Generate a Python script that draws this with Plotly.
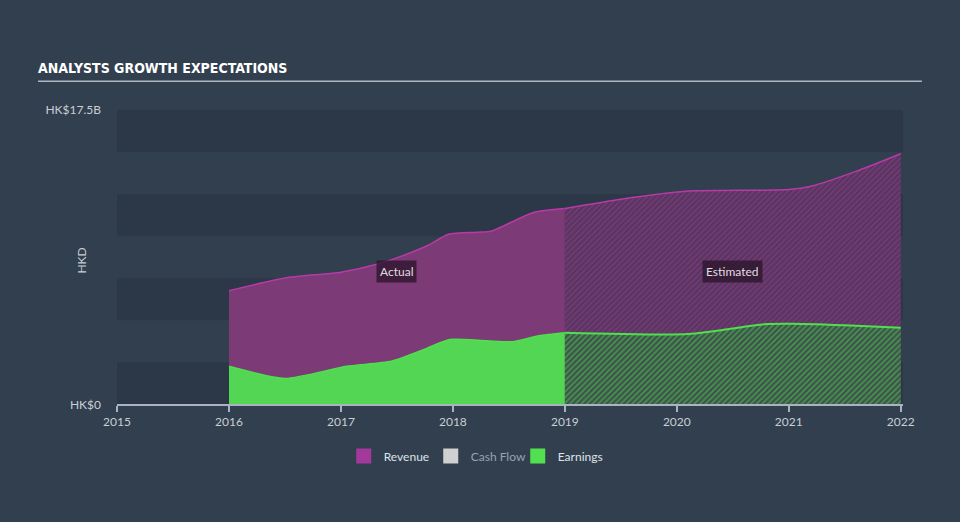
import plotly.graph_objects as go

# ---- data (values in HK$ billions, x in decimal years) ----
rev_actual_x = [2016.0, 2016.5, 2017.0, 2017.33, 2017.54, 2017.78, 2017.96, 2018.22, 2018.34, 2018.72, 2019.0]
rev_actual_y = [6.76, 7.51, 7.86, 8.34, 8.81, 9.46, 10.11, 10.23, 10.29, 11.41, 11.65]
rev_est_x = [2019.0, 2019.5, 2020.08, 2021.0, 2021.2, 2021.6, 2022.0]
rev_est_y = [11.65, 12.2, 12.67, 12.77, 12.97, 13.85, 14.9]

earn_actual_x = [2016.0, 2016.5, 2017.05, 2017.45, 2017.76, 2017.97, 2018.3, 2018.53, 2018.77, 2019.0]
earn_actual_y = [2.26, 1.54, 2.26, 2.56, 3.31, 3.86, 3.78, 3.72, 4.08, 4.26]
earn_est_x = [2019.0, 2020.1, 2020.8, 2021.03, 2021.6, 2022.0]
earn_est_y = [4.26, 4.18, 4.77, 4.79, 4.67, 4.55]

year_ticks = [2015, 2016, 2017, 2018, 2019, 2020, 2021, 2022]
y_ticks = [0, 17.5]
y_tick_labels = ["HK$0", "HK$17.5B"]
legend_names = ["Revenue", "Cash Flow", "Earnings"]

# ---- styles ----
BG = "#323f4f"
BAND = "#2c3847"
REV_FILL = "#7c3a76"
REV_LINE = "#b83aa6"
EARN_FILL = "#52d653"
EARN_LINE = "#4fe04c"
TXT = "#c9ced4"
FONT = "Lato, 'Open Sans', sans-serif"

fig = go.Figure()

# revenue actual
fig.add_trace(go.Scatter(x=rev_actual_x, y=rev_actual_y, mode="lines", fill="tozeroy",
                         fillcolor=REV_FILL, line=dict(color=REV_LINE, width=1.5, shape="spline", smoothing=0.6),
                         showlegend=False, hoverinfo="skip"))
# revenue estimated (hatched)
fig.add_trace(go.Scatter(x=rev_est_x, y=rev_est_y, mode="lines", fill="tozeroy",
                         fillpattern=dict(shape="/", fgcolor="#9a3a8d", bgcolor="#55365f", size=4, solidity=0.45),
                         line=dict(color=REV_LINE, width=1.5, shape="spline", smoothing=0.6),
                         showlegend=False, hoverinfo="skip"))
# earnings actual
fig.add_trace(go.Scatter(x=earn_actual_x, y=earn_actual_y, mode="lines", fill="tozeroy",
                         fillcolor=EARN_FILL, line=dict(color=EARN_LINE, width=1.5, shape="spline", smoothing=0.6),
                         showlegend=False, hoverinfo="skip"))
# earnings estimated (hatched)
fig.add_trace(go.Scatter(x=earn_est_x, y=earn_est_y, mode="lines", fill="tozeroy",
                         fillpattern=dict(shape="/", fgcolor="#52d653", bgcolor="#3d524b", size=4, solidity=0.45),
                         line=dict(color=EARN_LINE, width=2, shape="spline", smoothing=0.6),
                         showlegend=False, hoverinfo="skip"))

# legend entries
legend_colors = ["#a3399b", "#d0d0d0", "#52e050"]
legend_text_colors = ["#dfe3e8", "#9aa3ad", "#dfe3e8"]
for name, c, tc in zip(legend_names, legend_colors, legend_text_colors):
    fig.add_trace(go.Scatter(x=[None], y=[None], mode="markers",
                             marker=dict(symbol="square", size=15, color=c),
                             name=f"<span style='color:{tc}'>{name}</span>", showlegend=True))

# background bands
shapes = []
for lo in [0, 5, 10, 15]:
    shapes.append(dict(type="rect", xref="paper", yref="y", x0=0, x1=1, y0=lo, y1=lo + 2.5,
                       fillcolor=BAND, line=dict(width=0), layer="below"))
# title underline
shapes.append(dict(type="line", xref="paper", yref="paper", x0=-0.1005, x1=1.024, y0=1.098, y1=1.098,
                   line=dict(color="#b0b7c0", width=1.5)))

annotations = [
    dict(x=2017.5, y=7.92, xref="x", yref="y", text="Actual", showarrow=False,
         font=dict(family=FONT, size=12, color="#e0dde2"), bgcolor="rgba(40,20,40,0.75)", borderpad=3),
    dict(x=2020.5, y=7.92, xref="x", yref="y", text="Estimated", showarrow=False,
         font=dict(family=FONT, size=12, color="#e0dde2"), bgcolor="rgba(40,20,40,0.75)", borderpad=3),
    dict(x=-0.0573, y=0.49, xref="paper", yref="paper", text="HKD", showarrow=False, textangle=-90,
         font=dict(family=FONT, size=12, color=TXT)),
]

fig.update_layout(
    width=960, height=522,
    margin=dict(l=117, r=57, t=110, b=116),
    paper_bgcolor=BG, plot_bgcolor=BG,
    title=dict(text="<b>ANALYSTS GROWTH EXPECTATIONS</b>", x=38 / 960, xanchor="left",
               y=1 - 68 / 522, yanchor="middle",
               font=dict(family="'DejaVu Sans Condensed', 'Liberation Sans Narrow', sans-serif", size=14, color="#ffffff")),
    xaxis=dict(range=[2015, 2022.02], tickvals=year_ticks, ticktext=[str(t) for t in year_ticks],
               showgrid=False, zeroline=False, showline=True, linecolor="#aab3bf", linewidth=1.5,
               ticks="outside", ticklen=6, tickcolor="#aab3bf", tickwidth=1.5,
               tickfont=dict(family=FONT, size=12, color=TXT)),
    yaxis=dict(range=[0, 17.5], tickvals=y_ticks, ticktext=y_tick_labels, showgrid=False, zeroline=False,
               showline=False, ticks="", ticklabelstandoff=15,
               tickfont=dict(family=FONT, size=12, color=TXT)),
    shapes=shapes,
    annotations=annotations,
    legend=dict(orientation="h", xref="container", yref="container", x=0.494, xanchor="center",
                y=1 - 456 / 522, yanchor="middle", font=dict(family=FONT, size=12, color="#dfe3e8"),
                bgcolor="rgba(0,0,0,0)", itemwidth=30, tracegroupgap=0,
                entrywidth=42, entrywidthmode="pixels"),
    showlegend=True,
)

fig.write_html("out.html")
